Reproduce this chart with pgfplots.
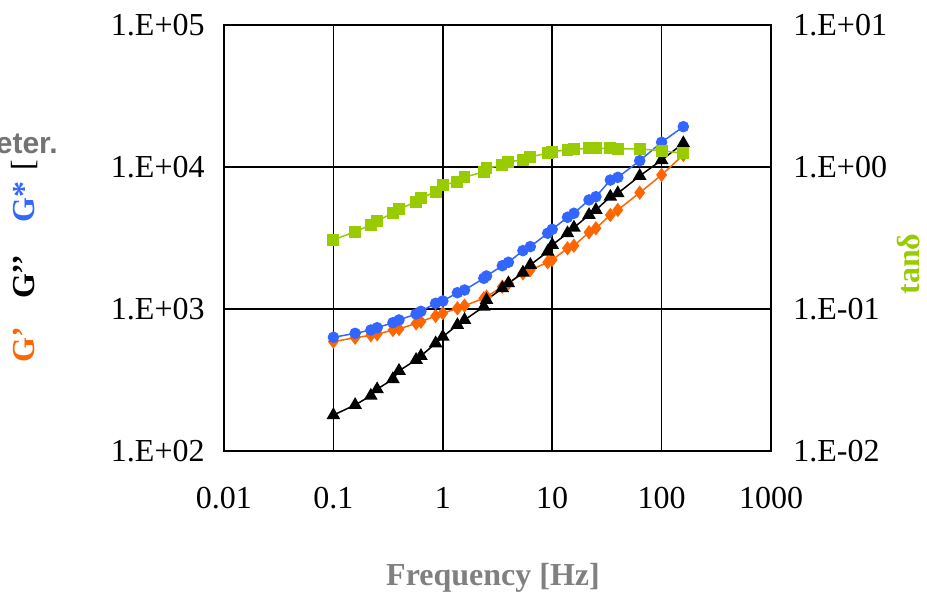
\documentclass[border=0pt]{standalone}
\usepackage{fontspec}
\setmainfont{Liberation Serif}
\newfontfamily\sansf{Liberation Sans}
\usepackage{pgfplots}
\pgfplotsset{compat=1.18}
\definecolor{cGp}{RGB}{255,102,0}
\definecolor{cGs}{RGB}{51,102,255}
\definecolor{ctan}{RGB}{153,204,0}
\definecolor{lbl}{RGB}{128,128,128}

\pgfplotstableread{
f     Gp    Gpp   Gs    tan
0.1   589   179   632   0.306
0.158 628   211   674   0.351
0.22  653   245   711   0.391
0.251 664   272   738   0.419
0.35  711   321   801   0.472
0.398 723   367   837   0.503
0.57  793   438   922   0.570
0.631 814   467   963   0.601
0.86  893   573   1097  0.670
1     933   638   1138  0.747
1.36  1011  771   1302  0.788
1.58  1055  837   1360  0.846
2.37  1189  1038  1645  0.927
2.51  1221  1157  1708  0.979
3.5   1436  1400  2018  1.033
3.98  1517  1517  2133  1.090
5.4   1783  1803  2576  1.120
6.31  1883  2042  2749  1.182
9.1   2133  2535  3414  1.248
10    2215  2826  3640  1.282
13.8  2676  3414  4424  1.318
15.8  2791  3742  4722  1.332
21.7  3469  4592  5862  1.353
25.1  3700  4979  6177  1.353
34    4592  6177  8094  1.353
39.8  4979  6530  8452  1.339
63.1  6592  8650  11070 1.339
100   8790  11190 14930 1.303
158   12160 14690 19230 1.248
}\data

\begin{document}
\begin{tikzpicture}
\pgfplotsset{
  every axis/.append style={
    width=273.5pt, height=213pt, scale only axis,
    xmode=log, xmin=0.01, xmax=1000,
    major tick length=0pt, minor tick length=0pt,
    tick label style={font=\fontsize{16}{19}\selectfont},
    axis line style={black, line width=0.8pt},
  }
}
\begin{axis}[
  name=main,
  ymode=log, ymin=100, ymax=100000,
  xtick={0.01,0.1,1,10,100,1000},
  xticklabels={0.01,0.1,1,10,100,1000},
  ytick={100,1000,10000,100000},
  yticklabels={1.E+02,1.E+03,1.E+04,1.E+05},
  grid=major, major grid style={black, line width=0.8pt},
  xticklabel style={anchor=north, inner sep=0pt, yshift=-18pt},
  yticklabel style={anchor=east, inner sep=0pt, xshift=-9.5pt},
]
\addplot[cGp, line width=0.75pt, mark=diamond*, mark size=3pt, mark options={fill=cGp}]
  table[x=f, y=Gp] {\data};
\addplot[black, line width=0.75pt, mark=triangle*, mark size=3.2pt, mark options={fill=black}]
  table[x=f, y=Gpp] {\data};
\addplot[cGs, line width=0.75pt, mark=*, mark size=2.5pt, mark options={fill=cGs}]
  table[x=f, y=Gs] {\data};
\end{axis}
\begin{axis}[
  ymode=log, ymin=0.01, ymax=10,
  axis x line=none, axis y line*=right,
  ytick={0.01,0.1,1,10},
  yticklabels={1.E-02,1.E-01,1.E+00,1.E+01},
  yticklabel style={anchor=west, inner sep=0pt, xshift=11pt},
]
\addplot[ctan, line width=0.75pt, mark=square*, mark size=2.6pt, mark options={fill=ctan}]
  table[x=f, y=tan] {\data};
\end{axis}
% labels, placed in pixel-scaled coordinates from the axis corner
\begin{scope}[shift={(main.south west)}]
\path[use as bounding box] (-112pt,-71pt) rectangle (351.5pt,225.5pt);
\node[font=\fontsize{16}{19}\selectfont\bfseries, text=lbl] at (134.5pt,-63.5pt) {Frequency [Hz]};
\node[font=\fontsize{16}{19}\selectfont\bfseries, text=ctan, rotate=90] at (342.5pt,93.5pt) {tanδ};
\node[font=\fontsize{16}{19}\selectfont\bfseries, text=cGp, rotate=90] at (-100pt,53pt) {G’};
\node[font=\fontsize{16}{19}\selectfont\bfseries, text=black, rotate=90] at (-100pt,87pt) {G’’};
\node[font=\fontsize{16}{19}\selectfont\bfseries, text=cGs, rotate=90] at (-100pt,124.5pt) {G*};
\node[font=\fontsize{16}{19}\selectfont, text=black, rotate=90] at (-99.5pt,143pt) {[};
\node[font=\fontsize{15}{18}\sansf\bfseries, text=black!55, anchor=east, inner sep=0pt] at (-83pt,153.5pt) {eter.};
\end{scope}
\end{tikzpicture}
\end{document}
